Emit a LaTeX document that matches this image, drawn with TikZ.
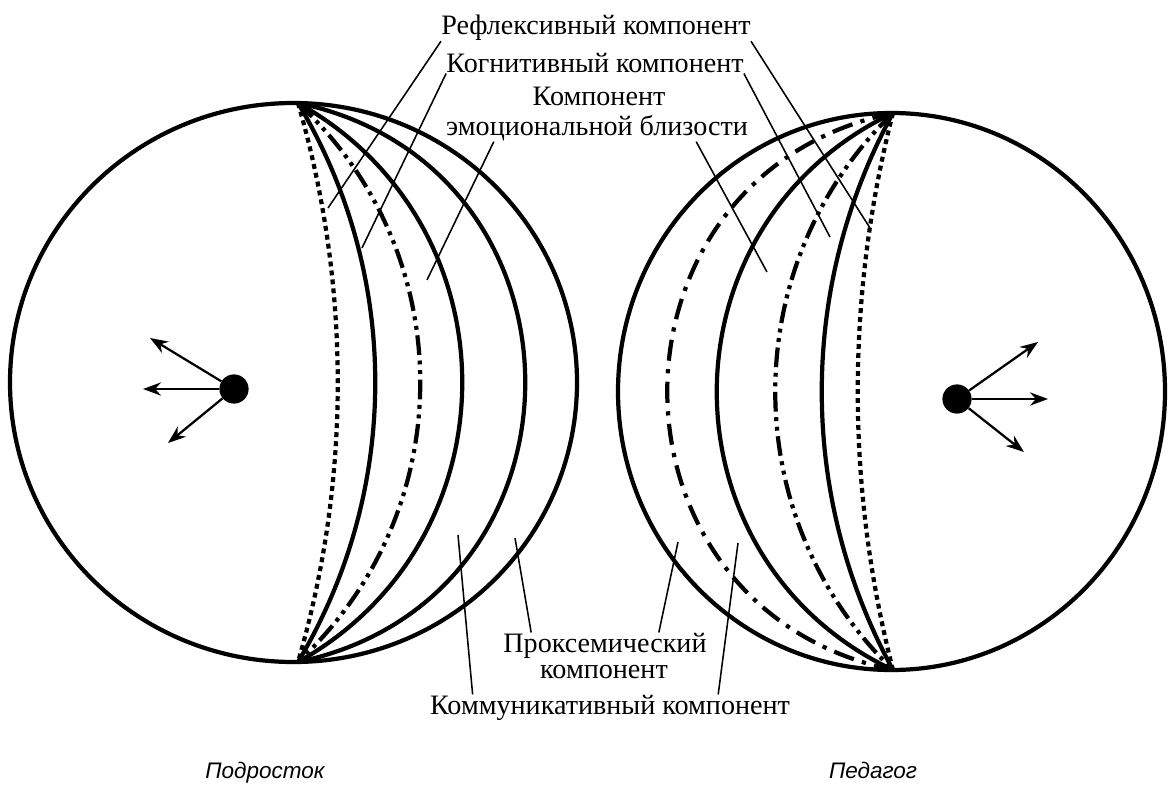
\documentclass[tikz,border=0pt]{standalone}
\usepackage{fontspec}
\setmainfont{Liberation Serif}
\newfontfamily\capfont{Liberation Sans}
\usetikzlibrary{arrows.meta}

\begin{document}
\begin{tikzpicture}[
    x=0.025cm, y=-0.025cm,
    every node/.style={inner sep=0pt},
    solidline/.style={line width=3pt},
    dotline/.style={line width=3pt, dash pattern=on 3.5pt off 2.9pt},
    dashdotdot/.style={line width=3pt, dash pattern=on 14pt off 4pt on 2.8pt off 4pt on 2.8pt off 4pt},
    dashdotline/.style={line width=3pt, dash pattern=on 15pt off 6pt on 3pt off 6pt},
    leader/.style={line width=1.1pt},
    comp/.style={font=\fontsize{20}{22}\selectfont, anchor=base},
    caption/.style={font=\capfont\itshape\fontsize{16}{18}\selectfont, anchor=base},
    dot/.style={circle, fill=black, minimum size=0.73cm},
    ray/.style={line width=1.6pt, -{Stealth[length=4.5mm, width=3.3mm]}}
]

\useasboundingbox (0,0) rectangle (1175,787);

% ================= Podrostok =================

\draw[solidline] (293.5,382.5) ellipse [x radius=283.5, y radius=279.5];

\coordinate (lt) at (298,103);
\coordinate (lb) at (298,662);

\draw[dotline]    (lt) .. controls (351,286) and (351,480) .. (lb);
\draw[solidline]  (lt) .. controls (401,275) and (401,490) .. (lb);
\draw[dashdotdot] (lt) .. controls (461,254) and (461,511) .. (lb);
\draw[solidline]  (lt) .. controls (517,225) and (517,540) .. (lb);
\draw[solidline]  (lt) .. controls (601,166) and (601,599) .. (lb);

\node[dot] (dl) at (234,389) {};
\coordinate (al1) at (150,338);
\coordinate (al2) at (143,389);
\coordinate (al3) at (168,443);
\draw[ray] (dl) -- (al1);
\draw[ray] (dl) -- (al2);
\draw[ray] (dl) -- (al3);

\node[caption] (podr) at (265,778) {Подросток};

% ================= Pedagog =================

\draw[solidline] (891.5,391.5) ellipse [x radius=273.5, y radius=278.5];

\coordinate (rt) at (893,113);
\coordinate (rb) at (893,670);

\draw[dotline]     (rt) .. controls (846,296) and (846,487) .. (rb);
\draw[solidline]   (rt) .. controls (798,287) and (798,496) .. (rb);
\draw[dashdotdot]  (rt) .. controls (736,265) and (736,518) .. (rb);
\draw[solidline]   (rt) .. controls (658,225) and (658,559) .. (rb);
\draw[dashdotline] (rt) .. controls (592,176) and (592,607) .. (rb);

\node[dot] (dr) at (957,399) {};
\coordinate (ar1) at (1038,342);
\coordinate (ar2) at (1048,399);
\coordinate (ar3) at (1024,452);
\draw[ray] (dr) -- (ar1);
\draw[ray] (dr) -- (ar2);
\draw[ray] (dr) -- (ar3);

\node[caption] (ped) at (873,778) {Педагог};

% ================= Components =================

\node[comp] (refl) at (596,35) {Рефлексивный компонент};
\node[comp] (kogn) at (595,73) {Когнитивный компонент};
\node[comp] (emo1) at (599,106) {Компонент};
\node[comp] (emo2) at (597,136) {эмоциональной близости};
\node[comp] (prox1) at (605,652) {Проксемический};
\node[comp] (prox2) at (604,678) {компонент};
\node[comp] (comm) at (610,714) {Коммуникативный компонент};

\coordinate (rL) at (328,208);
\coordinate (kL) at (362,248);
\coordinate (eL) at (427,280);
\coordinate (rR) at (870,228);
\coordinate (kR) at (830,237);
\coordinate (eR) at (767,272);
\coordinate (pL) at (515,538);
\coordinate (pR) at (678,542);
\coordinate (cL) at (458,535);
\coordinate (cR) at (738,543);

\draw[leader] (refl.south west) -- (rL);
\draw[leader] (kogn.south west) -- (kL);
\draw[leader] ([xshift=1.2cm]emo2.south west) -- (eL);
\draw[leader] (refl.south east) -- (rR);
\draw[leader] (kogn.south east) -- (kR);
\draw[leader] ([xshift=-1.3cm]emo2.south east) -- (eR);
\draw[leader] ([xshift=0.7cm]prox1.north west) -- (pL);
\draw[leader] ([xshift=-1.2cm]prox1.north east) -- (pR);
\draw[leader] ([xshift=1.07cm]comm.north west) -- (cL);
\draw[leader] ([xshift=-1.8cm]comm.north east) -- (cR);

\end{tikzpicture}
\end{document}
